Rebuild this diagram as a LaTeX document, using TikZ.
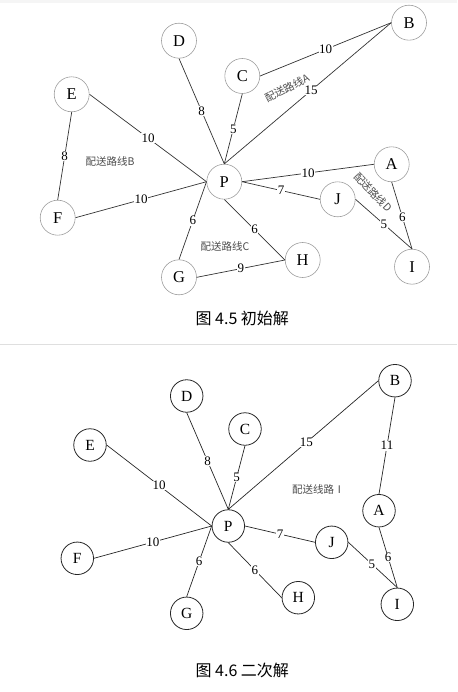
\documentclass[tikz,border=0pt]{standalone}
\usepackage{fontspec}
\setmainfont{Liberation Serif}
\newfontfamily\cjk{Noto Sans CJK SC}
\begin{document}
\begin{tikzpicture}[x=1pt,y=-1pt,
  vtxA/.style={circle,draw=black!38,line width=0.6pt,minimum size=35pt,inner sep=0pt,font=\fontsize{16.5}{16.5}\selectfont},
  vtxB/.style={circle,draw=black!85,line width=0.8pt,minimum size=32.5pt,inner sep=0pt,font=\fontsize{15.5}{15.5}\selectfont},
  edgeA/.style={draw=black!80,line width=0.7pt},
  edgeB/.style={draw=black!85,line width=0.7pt},
  wlab/.style={midway,fill=white,inner sep=0.6pt,font=\fontsize{13}{13}\selectfont},
  route/.style={text=black!70,font=\cjk\fontsize{10.5}{10.5}\selectfont,inner sep=0pt},
  captext/.style={font=\cjk\fontsize{16}{16}\selectfont,inner sep=0pt}
]
\useasboundingbox (0,0) rectangle (457,692);
\fill[gray!8] (0,0) rectangle (457,3);
\draw[gray!25,line width=1pt] (0,344) -- (457,344);

% ---------- Figure 4.5 ----------
\node[vtxA] (B) at (409,22.7) {B};
\node[vtxA] (D) at (179,40.7) {D};
\node[vtxA] (C) at (242.3,76) {C};
\node[vtxA] (E) at (71.7,94.3) {E};
\node[vtxA] (P) at (224.3,181.7) {P};
\node[vtxA] (A) at (391.7,164.3) {A};
\node[vtxA] (J) at (337.7,199.3) {J};
\node[vtxA] (F) at (57.7,217.7) {F};
\node[vtxA] (G) at (179,277.3) {G};
\node[vtxA] (H) at (302.7,260) {H};
\node[vtxA] (I) at (412,266.7) {I};

\draw[edgeA] (C.east) -- node[wlab]{10} (B.west);
\draw[edgeA] (P.north) -- node[wlab,pos=0.52]{15} (B.west);
\draw[edgeA] (D.south) -- node[wlab]{8} (P.north);
\draw[edgeA] (C.south) -- node[wlab]{5} (P.north);
\draw[edgeA] (E.east) -- node[wlab]{10} (P.west);
\draw[edgeA] (E.south) -- node[wlab]{8} (F.north);
\draw[edgeA] (F.east) -- node[wlab]{10} (P.west);
\draw[edgeA] (P.east) -- node[wlab]{10} (A.west);
\draw[edgeA] (P.east) -- node[wlab]{7} (J.west);
\draw[edgeA] (A.south) -- node[wlab,pos=0.52]{6} (I.north);
\draw[edgeA] (J.east) -- node[wlab]{5} (I.north);
\draw[edgeA] (P.west) -- node[wlab]{6} (G.north);
\draw[edgeA] (P.south) -- node[wlab]{6} (H.west);
\draw[edgeA] (G.east) -- node[wlab]{9} (H.west);

\node[route,rotate=27] (rA) at (287,88) {配送路线A};
\node[route] (rB) at (110,162) {配送路线B};
\node[route] (rC) at (225,247) {配送路线C};
\node[route,rotate=-46] (rD) at (373,192) {配送路线D};

\node[captext] (cap1) at (242.3,318.3) {图 4.5 初始解};

% ---------- Figure 4.6 ----------
\node[vtxB] (B2) at (395,380.7) {B};
\node[vtxB] (D2) at (186.7,396) {D};
\node[vtxB] (C2) at (245,429) {C};
\node[vtxB] (E2) at (90,445) {E};
\node[vtxB] (P2) at (228.3,526) {P};
\node[vtxB] (A2) at (379,510.7) {A};
\node[vtxB] (J2) at (331.7,542.3) {J};
\node[vtxB] (F2) at (77.3,558.3) {F};
\node[vtxB] (G2) at (186.7,613.3) {G};
\node[vtxB] (H2) at (298.3,597.7) {H};
\node[vtxB] (I2) at (397.3,604.3) {I};

\draw[edgeB] (P2.north) -- node[wlab,pos=0.52]{15} (B2.west);
\draw[edgeB] (B2.south) -- node[wlab]{11} (A2.north);
\draw[edgeB] (D2.south) -- node[wlab]{8} (P2.north);
\draw[edgeB] (C2.south) -- node[wlab]{5} (P2.north);
\draw[edgeB] (E2.east) -- node[wlab]{10} (P2.west);
\draw[edgeB] (F2.east) -- node[wlab]{10} (P2.west);
\draw[edgeB] (P2.west) -- node[wlab]{6} (G2.north);
\draw[edgeB] (P2.south) -- node[wlab]{6} (H2.west);
\draw[edgeB] (P2.east) -- node[wlab]{7} (J2.west);
\draw[edgeB] (J2.east) -- node[wlab,pos=0.48]{5} (I2.north);
\draw[edgeB] (A2.south) -- node[wlab]{6} (I2.north);

\node[route] (rI) at (318.3,489) {配送线路Ⅰ};

\node[captext] (cap2) at (242.3,670) {图 4.6 二次解};
\end{tikzpicture}
\end{document}
